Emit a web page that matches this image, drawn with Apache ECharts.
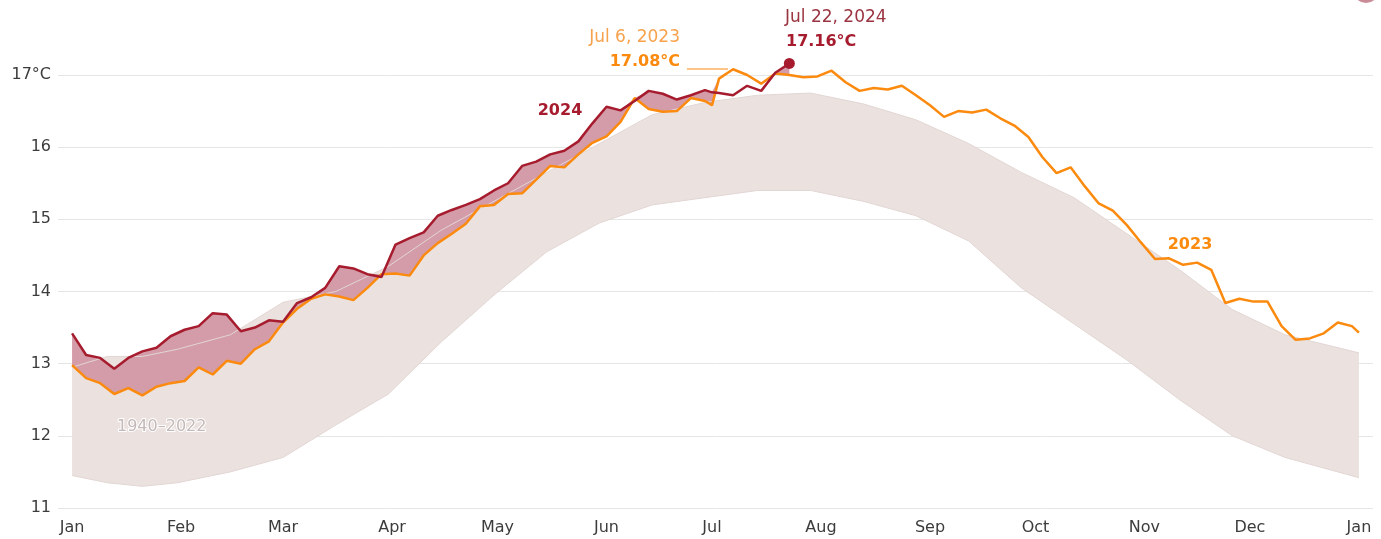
<!DOCTYPE html>
<html>
<head>
<meta charset="utf-8">
<title>Global daily surface air temperature</title>
<script src="https://cdn.jsdelivr.net/npm/echarts@6/dist/echarts.min.js"></script>
<style>
  html, body { margin: 0; padding: 0; background: #fff; }
  #chart { width: 1381px; height: 539px; }
</style>
</head>
<body>
<div id="chart"></div>
<script>
// Month ticks (day of year, leap year) and their labels
const monthDays = [0, 31, 60, 91, 121, 152, 182, 213, 244, 274, 305, 335, 366];
const monthLabels = ['Jan', 'Feb', 'Mar', 'Apr', 'May', 'Jun', 'Jul', 'Aug', 'Sep', 'Oct', 'Nov', 'Dec', 'Jan'];

// Day-of-year positions the lines were read at
const days = [0, 4, 8, 12, 16, 20, 24, 28, 32, 36, 40, 44, 48, 52, 56, 60, 64, 68, 72, 76,
  80, 84, 88, 92, 96, 100, 104, 108, 112, 116, 120, 124, 128, 132, 136, 140, 144, 148, 152, 156,
  160, 164, 168, 172, 176, 180, 182, 184, 188, 192, 196, 200, 204, 208, 212, 216, 220, 224, 228, 232,
  236, 240, 244, 248, 252, 256, 260, 264, 268, 272, 276, 280, 284, 288, 292, 296, 300, 304, 308, 312,
  316, 320, 324, 328, 332, 336, 340, 344, 348, 352, 356, 360, 364, 366];

// 2023 daily global temperature (°C)
const temps2023 = [12.98, 12.80, 12.73, 12.58, 12.66, 12.56, 12.68, 12.73, 12.76, 12.95, 12.85, 13.04, 13.00, 13.20, 13.31, 13.57, 13.76, 13.90, 13.96, 13.93,
  13.88, 14.05, 14.24, 14.25, 14.22, 14.50, 14.67, 14.80, 14.94, 15.18, 15.20, 15.35, 15.36, 15.55, 15.74, 15.72, 15.90, 16.06, 16.15, 16.35,
  16.68, 16.53, 16.49, 16.50, 16.68, 16.64, 16.58, 16.95, 17.08, 17.00, 16.88, 17.02, 17.00, 16.97, 16.98, 17.06, 16.90, 16.78, 16.82, 16.80,
  16.85, 16.72, 16.58, 16.42, 16.50, 16.48, 16.52, 16.40, 16.30, 16.14, 15.86, 15.64, 15.72, 15.46, 15.22, 15.12, 14.92, 14.68, 14.45, 14.46,
  14.37, 14.40, 14.30, 13.84, 13.90, 13.86, 13.86, 13.52, 13.33, 13.35, 13.42, 13.57, 13.52, 13.43];

// 2024 daily global temperature (°C), up to Jul 22
const temps2024 = [13.42, 13.12, 13.08, 12.93, 13.08, 13.17, 13.22, 13.38, 13.47, 13.52, 13.70, 13.68, 13.45, 13.50, 13.60, 13.58, 13.84, 13.92, 14.05, 14.35,
  14.32, 14.24, 14.20, 14.65, 14.74, 14.82, 15.05, 15.13, 15.20, 15.28, 15.40, 15.50, 15.74, 15.80, 15.90, 15.95, 16.08, 16.33, 16.56, 16.51,
  16.64, 16.78, 16.74, 16.66, 16.72, 16.79, 16.76, 16.75, 16.72, 16.85, 16.78, 17.03, 17.16];

// 1940-2022 spread: lowest and highest of the grey lines
const bandDays = [0, 10, 20, 30, 45, 60, 75, 90, 105, 120, 135, 150, 165, 180, 195, 210, 225, 240, 255, 270, 285, 300, 315, 330, 345, 366];
const bandLow = [11.45, 11.35, 11.30, 11.35, 11.50, 11.70, 12.15, 12.58, 13.30, 13.95, 14.55, 14.95, 15.20, 15.30, 15.40, 15.40, 15.25, 15.05, 14.70, 14.05, 13.55, 13.05, 12.50, 12.00, 11.70, 11.42];
const bandHigh = [12.95, 13.10, 13.10, 13.20, 13.40, 13.85, 14.00, 14.35, 14.85, 15.25, 15.65, 16.05, 16.45, 16.62, 16.72, 16.75, 16.60, 16.38, 16.05, 15.65, 15.30, 14.80, 14.30, 13.75, 13.40, 13.15];

const RED = '#a61c2e';
const ORANGE = '#fb8a0e';
const PINK = '#d49ca8';
const GREY = '#e2d6d3';
const FONT = "'DejaVu Sans', 'Noto Sans', sans-serif";

const chartDom = document.getElementById('chart');
const myChart = echarts.init(chartDom, null, { renderer: 'canvas' });

const pts = (xs, ys) => ys.map((v, i) => [xs[i], v]);

// Filled shape between an upper and a lower run of points, drawn once
function areaBetween(upper, lower, color, z) {
    return {
        type: 'custom',
        data: [0],
        silent: true,
        z: z,
        clip: false,
        renderItem: function(params, api) {
            const top = upper.map(p => api.coord(p));
            const bottom = lower.map(p => api.coord(p)).reverse();
            return {
                type: 'polygon',
                shape: { points: top.concat(bottom) },
                style: { fill: color }
            };
        }
    };
}

// 2024 above 2023 -> shaded gap
const gapLower = temps2024.map((v, i) => [days[i], temps2023[i]]);
const gapUpper = temps2024.map((v, i) => [days[i], Math.max(v, temps2023[i])]);

const last = temps2024.length - 1;

const option = {
    animation: false,
    grid: { left: 58, right: 8, top: 75, bottom: 31 },
    xAxis: {
        type: 'value',
        min: -4,
        max: 370,
        axisLine: { show: false },
        axisTick: { show: false },
        splitLine: { show: false },
        axisLabel: {
            customValues: monthDays,
            formatter: v => monthLabels[monthDays.indexOf(v)],
            color: '#3c3c3c',
            fontSize: 16,
            fontFamily: FONT,
            margin: 12
        }
    },
    yAxis: {
        type: 'value',
        min: 11,
        max: 17,
        interval: 1,
        axisLine: { show: false },
        axisTick: { show: false },
        splitLine: { lineStyle: { color: '#e6e6e6', width: 1 } },
        axisLabel: {
            formatter: v => (v === 17 ? '17°C' : String(v)),
            color: '#3c3c3c',
            fontSize: 16,
            fontFamily: FONT,
            margin: 7
        }
    },
    series: [
        areaBetween(pts(bandDays, bandHigh), pts(bandDays, bandLow), '#ebe2df', 1),
        areaBetween(gapUpper, gapLower, PINK, 2),
        {
            name: 'band-high', type: 'line', data: pts(bandDays, bandHigh),
            symbol: 'none', clip: false, z: 3,
            lineStyle: { color: GREY, width: 1 }
        },
        {
            name: 'band-low', type: 'line', data: pts(bandDays, bandLow),
            symbol: 'none', clip: false, z: 3,
            lineStyle: { color: GREY, width: 1 }
        },
        {
            name: '2023', type: 'line', data: pts(days, temps2023),
            symbol: 'none', clip: false, z: 4,
            lineStyle: { color: ORANGE, width: 2.5 }
        },
        {
            name: '2024', type: 'line', data: pts(days, temps2024),
            symbol: 'none', clip: false, z: 5,
            lineStyle: { color: RED, width: 2.5 }
        },
        {
            name: 'record', type: 'scatter', clip: false, z: 6,
            data: [[days[last], temps2024[last]]],
            symbolSize: 11,
            itemStyle: { color: RED, opacity: 1 }
        }
    ],
    graphic: [
        { type: 'circle', shape: { cx: 1366, cy: -10, r: 13 }, style: { fill: '#c98b97' } },
        { type: 'line', shape: { x1: 687, y1: 69, x2: 728, y2: 69 }, style: { stroke: ORANGE, lineWidth: 1 } },
        { type: 'text', x: 680, y: 38, style: { text: 'Jul 6, 2023', fill: '#f7a24c', font: '17px ' + FONT, align: 'right', verticalAlign: 'middle' } },
        { type: 'text', x: 680, y: 62, style: { text: '17.08°C', fill: ORANGE, font: 'bold 16px ' + FONT, align: 'right', verticalAlign: 'middle' } },
        { type: 'text', x: 785, y: 18, style: { text: 'Jul 22, 2024', fill: '#9a3440', font: '17px ' + FONT, align: 'left', verticalAlign: 'middle' } },
        { type: 'text', x: 786, y: 42, style: { text: '17.16°C', fill: RED, font: 'bold 16px ' + FONT, align: 'left', verticalAlign: 'middle' } },
        { type: 'text', x: 560, y: 111, style: { text: '2024', fill: RED, font: 'bold 16px ' + FONT, align: 'center', verticalAlign: 'middle', stroke: '#fff', lineWidth: 3 } },
        { type: 'text', x: 1190, y: 245, style: { text: '2023', fill: ORANGE, font: 'bold 16px ' + FONT, align: 'center', verticalAlign: 'middle', stroke: '#fff', lineWidth: 3 } },
        { type: 'text', x: 117, y: 427, z: 10, style: { text: '1940–2022', fill: '#c4b8b8', font: '16px ' + FONT, align: 'left', verticalAlign: 'middle', stroke: '#ffffff', lineWidth: 2 } }
    ]
};

myChart.setOption(option);

window.addEventListener('resize', function() {
    myChart.resize();
});
</script>
</body>
</html>
